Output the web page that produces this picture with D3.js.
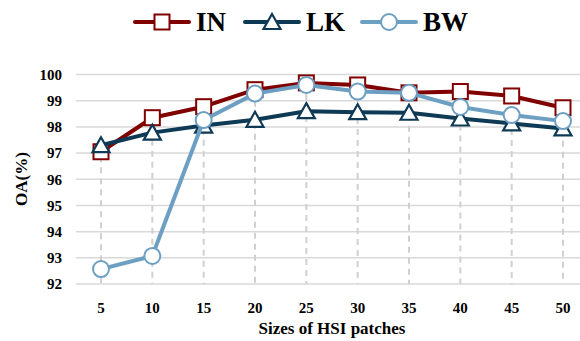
<!DOCTYPE html>
<html>
<head>
<meta charset="utf-8">
<script src="https://cdn.jsdelivr.net/npm/d3@7"></script>
<style>
  body { margin: 0; background: #fff; }
  svg { display: block; }
  text { font-family: "Liberation Serif", "Times New Roman", serif; font-weight: bold; fill: #000; }
</style>
</head>
<body>
<svg width="580" height="341"></svg>
<script>
const sizes = [5, 10, 15, 20, 25, 30, 35, 40, 45, 50];
const inValues = [97.05, 98.35, 98.77, 99.42, 99.68, 99.6, 99.3, 99.35, 99.18, 98.73];
const lkValues = [97.3, 97.78, 98.05, 98.27, 98.6, 98.56, 98.54, 98.32, 98.13, 97.94];
const bwValues = [92.57, 93.07, 98.26, 99.27, 99.6, 99.35, 99.3, 98.76, 98.45, 98.22];
const yTicks = [92, 93, 94, 95, 96, 97, 98, 99, 100];

const series = [
  { name: "IN", values: inValues, color: "#800000", marker: "square" },
  { name: "LK", values: lkValues, color: "#0e3a55", marker: "triangle" },
  { name: "BW", values: bwValues, color: "#6d9fc3", marker: "circle" },
];

const svg = d3.select("svg");
const plotLeft = 76, plotRight = 580;

const x = d3.scalePoint().domain(sizes).range([101, 563]);
const y = d3.scaleLinear().domain([92, 100]).range([284, 74.5]);

// horizontal gridlines
svg.append("g")
  .selectAll("line")
  .data(yTicks)
  .enter()
  .append("line")
  .attr("x1", plotLeft)
  .attr("x2", plotRight)
  .attr("y1", (d) => y(d))
  .attr("y2", (d) => y(d))
  .attr("stroke", "#d9d9d9")
  .attr("stroke-width", 1.5);

// drop lines (dashed) from highest point down to the axis
svg.append("g")
  .selectAll("line")
  .data(sizes)
  .enter()
  .append("line")
  .attr("x1", (d) => x(d))
  .attr("x2", (d) => x(d))
  .attr("y1", (d, i) => y(d3.max(series, (s) => s.values[i])))
  .attr("y2", y(92))
  .attr("stroke", "#d0d0d0")
  .attr("stroke-width", 2)
  .attr("stroke-dasharray", "6,5");

// y tick labels
svg.append("g")
  .selectAll("text")
  .data(yTicks)
  .enter()
  .append("text")
  .attr("x", 62)
  .attr("y", (d) => y(d))
  .attr("dy", "0.35em")
  .attr("text-anchor", "end")
  .attr("font-size", 15)
  .text((d) => d);

// x tick labels
svg.append("g")
  .selectAll("text")
  .data(sizes)
  .enter()
  .append("text")
  .attr("x", (d) => x(d))
  .attr("y", 308)
  .attr("dy", "0.35em")
  .attr("text-anchor", "middle")
  .attr("font-size", 15)
  .text((d) => d);

// axis titles
svg.append("text")
  .attr("x", 332)
  .attr("y", 328)
  .attr("dy", "0.35em")
  .attr("text-anchor", "middle")
  .attr("font-size", 17)
  .text("Sizes of HSI patches");

svg.append("text")
  .attr("transform", "translate(21,179) rotate(-90)")
  .attr("dy", "0.35em")
  .attr("text-anchor", "middle")
  .attr("font-size", 17)
  .text("OA(%)");

function drawMarker(g, type, color) {
  if (type === "square") {
    g.append("rect")
      .attr("x", -7.5).attr("y", -7.5)
      .attr("width", 15).attr("height", 15)
      .attr("fill", "#fff").attr("stroke", color).attr("stroke-width", 2);
  } else if (type === "triangle") {
    g.append("path")
      .attr("d", "M0,-8L8.5,7L-8.5,7Z")
      .attr("fill", "#fff").attr("stroke", color).attr("stroke-width", 2.2)
      .attr("stroke-linejoin", "miter");
  } else {
    g.append("circle")
      .attr("r", 8)
      .attr("fill", "#fff").attr("stroke", color).attr("stroke-width", 2);
  }
}

const line = d3.line()
  .x((d, i) => x(sizes[i]))
  .y((d) => y(d));

// lines then markers, drawn per series so later series sit on top
series.forEach((s) => {
  const g = svg.append("g");
  g.append("path")
    .attr("d", line(s.values))
    .attr("fill", "none")
    .attr("stroke", s.color)
    .attr("stroke-width", 4)
    .attr("stroke-linejoin", "round");
  g.selectAll("g")
    .data(s.values)
    .enter()
    .append("g")
    .attr("transform", (d, i) => `translate(${x(sizes[i])},${y(d)})`)
    .each(function () { drawMarker(d3.select(this), s.marker, s.color); });
});

// legend
const legendX = [135, 245, 362];
const legend = svg.append("g")
  .selectAll("g")
  .data(series)
  .enter()
  .append("g")
  .attr("transform", (d, i) => `translate(${legendX[i]},22)`);

legend.append("line")
  .attr("x1", 0).attr("x2", 54)
  .attr("stroke", (d) => d.color)
  .attr("stroke-width", 4)
  .attr("stroke-linecap", "round");

legend.append("g")
  .attr("transform", "translate(27,0)")
  .each(function (d) { drawMarker(d3.select(this), d.marker, d.color); });

legend.append("text")
  .attr("x", 61)
  .attr("dy", "0.35em")
  .attr("font-size", 27)
  .text((d) => d.name);
</script>
</body>
</html>
